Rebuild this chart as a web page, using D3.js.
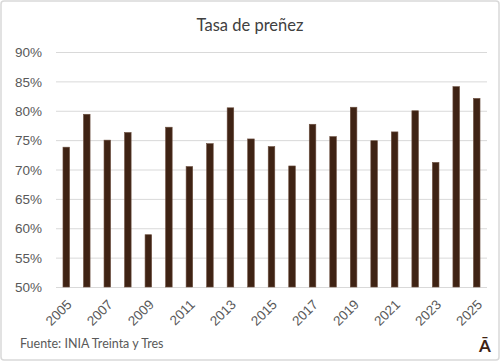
<!DOCTYPE html>
<html>
<head>
<meta charset="utf-8">
<script src="https://cdn.jsdelivr.net/npm/d3@7"></script>
<style>
  body { margin: 0; background: #fff; }
  svg { display: block; font-family: Lato, "Liberation Sans", sans-serif; }
</style>
</head>
<body>
<svg width="500" height="361"></svg>
<script>
var svg = d3.select("svg");

// Data
var years = ["2005","2006","2007","2008","2009","2010","2011","2012","2013","2014","2015",
             "2016","2017","2018","2019","2020","2021","2022","2023","2024","2025"];
var tasa = [73.8, 79.4, 75.0, 76.3, 58.9, 77.2, 70.5, 74.4, 80.5, 75.2, 73.9,
            70.6, 77.7, 75.6, 80.6, 74.9, 76.4, 80.0, 71.2, 84.1, 82.1];
var yTicks = [50, 55, 60, 65, 70, 75, 80, 85, 90];

var plotLeft = 56, plotRight = 487, plotTop = 52, plotBottom = 287;

// Border
svg.append("rect")
    .attr("x", 1).attr("y", 1)
    .attr("width", 498).attr("height", 359)
    .attr("rx", 3)
    .attr("fill", "#fff")
    .attr("stroke", "#d9d9d9")
    .attr("stroke-width", 1.5);

// Title
svg.append("text")
    .attr("x", 250).attr("y", 31)
    .attr("text-anchor", "middle")
    .attr("font-size", 16.5)
    .attr("fill", "#404040")
    .text("Tasa de preñez");

var x = d3.scaleBand().domain(years).range([plotLeft, plotRight]).paddingInner(0.68).paddingOuter(0.34);
var y = d3.scaleLinear().domain([50, 90]).range([plotBottom, plotTop]);

// Gridlines + y axis
var yAxis = svg.append("g")
    .attr("transform", "translate(" + plotLeft + ",0)")
    .call(d3.axisLeft(y).tickValues(yTicks).tickSize(-(plotRight - plotLeft)).tickFormat(function(d) { return d + "%"; }));
yAxis.select(".domain").remove();
yAxis.selectAll("line").attr("stroke", "#d9d9d9").attr("stroke-width", 1);
yAxis.selectAll("text")
    .attr("x", -14)
    .attr("dy", "0.35em")
    .attr("fill", "#595959")
    .attr("font-size", 13.5);

// Bars
svg.selectAll("rect.bar").data(tasa).enter().append("rect")
    .attr("class", "bar")
    .attr("x", function(d, i) { return x(years[i]); })
    .attr("y", function(d) { return y(d); })
    .attr("width", x.bandwidth())
    .attr("height", function(d) { return y(50) - y(d); })
    .attr("fill", "#3f2314")
    .attr("stroke", "#6b4e3e")
    .attr("stroke-width", 0.6);

// X axis labels (odd years)
var xAxis = svg.append("g")
    .attr("transform", "translate(0," + plotBottom + ")")
    .call(d3.axisBottom(x).tickValues(years.filter(function(d, i) { return i % 2 === 0; })).tickSize(0));
xAxis.select(".domain").remove();
xAxis.selectAll("text")
    .attr("y", 0)
    .attr("dy", "0.35em")
    .attr("fill", "#595959")
    .attr("font-size", 13.5)
    .attr("text-anchor", "end")
    .attr("transform", "translate(3,15) rotate(-45)");

// Source
svg.append("text")
    .attr("x", 20).attr("y", 348)
    .attr("font-size", 12.5)
    .attr("fill", "#595959")
    .text("Fuente: INIA Treinta y Tres");

svg.append("text")
    .attr("x", 485).attr("y", 352)
    .attr("text-anchor", "middle")
    .attr("font-size", 17)
    .attr("font-weight", "bold")
    .attr("fill", "#3f2314")
    .text("Ā");
</script>
</body>
</html>
